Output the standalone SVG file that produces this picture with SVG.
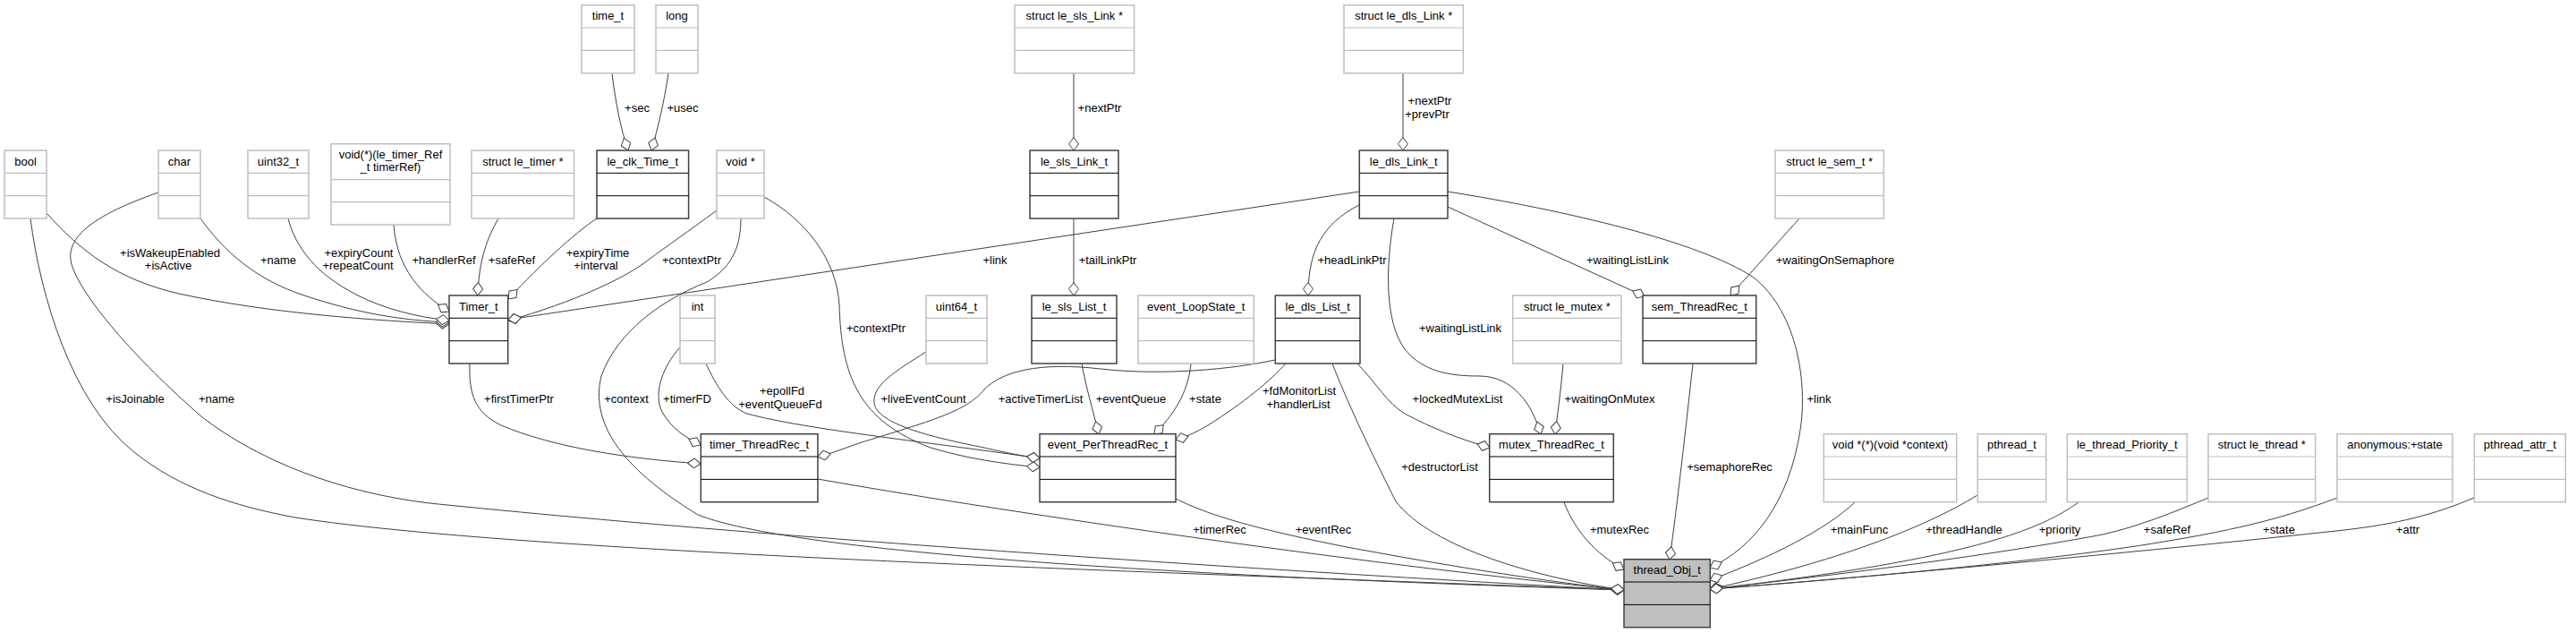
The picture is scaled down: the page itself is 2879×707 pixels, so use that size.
<svg xmlns="http://www.w3.org/2000/svg" width="2879" height="707" viewBox="0 0 2879 707">
<style>
text{font-family:"Liberation Sans",Arial,Helvetica,sans-serif;font-size:13px;fill:#000;text-anchor:middle}
.n rect{fill:#fff;stroke:#404040;stroke-width:1.5}
.n line{stroke:#000;stroke-width:1}
.u rect{fill:#fff;stroke:#bfbfbf;stroke-width:1.5}
.u line{stroke:#bfbfbf;stroke-width:1.2}
.m rect{fill:#bfbfbf}
#edges path{fill:none;stroke:#404040;stroke-width:1;marker-end:url(#od)}
</style>
<defs>
<marker id="od" markerUnits="userSpaceOnUse" markerWidth="16" markerHeight="12" viewBox="-1 -6 16 12" refX="14.5" refY="0" orient="auto">
<path d="M0,0 L7.25,-5.5 L14.5,0 L7.25,5.5 Z" fill="#fff" stroke="#404040" stroke-width="1"/>
</marker>
</defs>
<rect width="2879" height="707" fill="#fff"/>

<g id="edges">
<path d="M684,82 C688,115 694,145 702,168"/>
<path d="M747,82 C743,110 735,145 728,168"/>
<path d="M1200,82 L1200,168"/>
<path d="M1200,244 L1200,330"/>
<path d="M1568,82 L1568,168"/>
<path d="M1519,229 C1478,250 1462,280 1462,330"/>
<path d="M52,238 C90,280 130,312 200,328 C300,350 420,358 502,362"/>
<path d="M224,244 C250,280 285,312 340,330 C400,350 450,358 502,360"/>
<path d="M322,244 C330,275 352,306 400,330 C430,345 465,354 502,358"/>
<path d="M440,251 C443,290 460,322 502,348"/>
<path d="M557,244 C545,265 535,290 534,330"/>
<path d="M667,244 C640,262 605,295 568,334"/>
<path d="M801,235 C770,258 745,275 725,290 C700,310 640,338 568,358"/>
<path d="M1519,214 L568,357"/>
<path d="M525,406 C524,440 530,460 560,475 C620,500 700,512 783,518"/>
<path d="M760,388 C740,410 730,440 740,460 C750,478 765,488 783,497"/>
<path d="M789,406 C800,430 815,455 835,462 C900,480 1050,495 1162,512"/>
<path d="M854,220 C900,245 935,290 938,340 C940,420 960,470 1040,500 C1080,512 1120,518 1162,522"/>
<path d="M1035,393 C1000,415 975,430 977,450 C980,475 1050,490 1100,500 C1130,507 1148,510 1162,512"/>
<path d="M1425,402 C1380,412 1300,420 1230,412 C1160,404 1120,415 1100,435 C1080,460 1040,470 960,495 C940,502 928,507 914,510"/>
<path d="M1209,406 C1213,430 1222,460 1228,485"/>
<path d="M1331,406 C1328,440 1310,465 1290,485"/>
<path d="M1437,406 C1420,425 1390,450 1350,475 C1335,484 1325,488 1314,491"/>
<path d="M1517,406 C1540,430 1550,450 1570,462 C1600,478 1630,490 1665,500"/>
<path d="M1747,406 C1744,440 1741,460 1738,485"/>
<path d="M1558,244 C1548,300 1548,360 1570,390 C1590,415 1620,420 1653,420 C1690,420 1712,450 1722,485"/>
<path d="M1618,231 L1838,331"/>
<path d="M2011,244 L1934,330"/>
<path d="M34,244 C45,330 80,450 150,505 C200,545 260,565 330,578 C600,620 1400,642 1815,659"/>
<path d="M177,215 C120,235 70,260 80,295 C90,330 150,400 226,466 C290,515 380,550 480,562 C900,605 1500,642 1815,659"/>
<path d="M828,244 C828,280 815,300 790,315 C740,335 690,370 672,420 C660,470 690,520 780,575 C900,622 1400,646 1815,659"/>
<path d="M914,535 C1100,568 1500,628 1815,659"/>
<path d="M1314,557 C1350,575 1400,590 1500,610 C1650,638 1750,652 1815,659"/>
<path d="M1489,406 C1510,460 1540,520 1560,560 C1600,612 1720,646 1815,659"/>
<path d="M1748,561 C1760,592 1782,618 1815,636"/>
<path d="M1892,406 C1885,470 1875,560 1866,625"/>
<path d="M1618,214 C1750,235 1900,270 1960,310 C2010,350 2020,430 2012,480 C2000,560 1960,612 1911,634"/>
<path d="M2073,561 C2040,592 1980,622 1911,648"/>
<path d="M2210,553 C2150,590 2050,628 1911,658"/>
<path d="M2323,561 C2280,592 2200,625 1911,658"/>
<path d="M2468,556 C2430,572 2390,588 2350,597 C2200,625 2000,648 1911,658"/>
<path d="M2612,556 C2570,572 2520,588 2430,603 C2300,626 2050,648 1911,658"/>
<path d="M2765,556 C2720,575 2680,585 2620,592 C2400,616 2050,648 1911,658"/>
</g>

<g id="edge-labels">
<text x="712" y="125">+sec</text>
<text x="763" y="125">+usec</text>
<text x="1229" y="125">+nextPtr</text>
<text x="1598" y="117">+nextPtr</text>
<text x="1595" y="132">+prevPtr</text>
<text x="1238" y="295">+tailLinkPtr</text>
<text x="1511" y="295">+headLinkPtr</text>
<text x="1819" y="295">+waitingListLink</text>
<text x="2051" y="295">+waitingOnSemaphore</text>
<text x="190" y="287">+isWakeupEnabled</text>
<text x="188" y="301">+isActive</text>
<text x="311" y="295">+name</text>
<text x="401" y="287">+expiryCount</text>
<text x="400" y="301">+repeatCount</text>
<text x="496" y="295">+handlerRef</text>
<text x="572" y="295">+safeRef</text>
<text x="668" y="287">+expiryTime</text>
<text x="666" y="301">+interval</text>
<text x="773" y="295">+contextPtr</text>
<text x="1112" y="295">+link</text>
<text x="580" y="449.5">+firstTimerPtr</text>
<text x="700" y="449.5">+context</text>
<text x="768" y="449.5">+timerFD</text>
<text x="874" y="441">+epollFd</text>
<text x="872" y="456">+eventQueueFd</text>
<text x="979" y="371">+contextPtr</text>
<text x="1032" y="449.5">+liveEventCount</text>
<text x="1163" y="449.5">+activeTimerList</text>
<text x="1264" y="449.5">+eventQueue</text>
<text x="1347" y="449.5">+state</text>
<text x="1452" y="441">+fdMonitorList</text>
<text x="1451" y="456">+handlerList</text>
<text x="1629" y="449.5">+lockedMutexList</text>
<text x="1799" y="449.5">+waitingOnMutex</text>
<text x="1632" y="371">+waitingListLink</text>
<text x="1609" y="526">+destructorList</text>
<text x="1933" y="526">+semaphoreRec</text>
<text x="2033" y="449.5">+link</text>
<text x="151" y="449.5">+isJoinable</text>
<text x="242" y="449.5">+name</text>
<text x="1363" y="596">+timerRec</text>
<text x="1479" y="596">+eventRec</text>
<text x="1810" y="596">+mutexRec</text>
<text x="2078" y="596">+mainFunc</text>
<text x="2195" y="596">+threadHandle</text>
<text x="2302" y="596">+priority</text>
<text x="2422" y="596">+safeRef</text>
<text x="2547" y="596">+state</text>
<text x="2691" y="596">+attr</text>
</g>

<g id="bool" class="u"><rect x="5" y="168" width="47" height="76"/><line x1="5" y1="193.3" x2="52" y2="193.3"/><line x1="5" y1="218.7" x2="52" y2="218.7"/><text x="28.5" y="184.5">bool</text></g>
<g id="char" class="u"><rect x="177" y="168" width="47" height="76"/><line x1="177" y1="193.3" x2="224" y2="193.3"/><line x1="177" y1="218.7" x2="224" y2="218.7"/><text x="200.5" y="184.5">char</text></g>
<g id="uint32_t" class="u"><rect x="277" y="168" width="68" height="76"/><line x1="277" y1="193.3" x2="345" y2="193.3"/><line x1="277" y1="218.7" x2="345" y2="218.7"/><text x="311" y="184.5">uint32_t</text></g>
<g id="timer_handler_fn" class="u"><rect x="370" y="160.7" width="133" height="90.3"/><line x1="370" y1="200.7" x2="503" y2="200.7"/><line x1="370" y1="225.7" x2="503" y2="225.7"/><text x="436.5" y="177">void(*)(le_timer_Ref</text><text x="436.5" y="191">_t timerRef)</text></g>
<g id="struct_le_timer" class="u"><rect x="527" y="168" width="114.5" height="76"/><line x1="527" y1="193.3" x2="641.5" y2="193.3"/><line x1="527" y1="218.7" x2="641.5" y2="218.7"/><text x="584.3" y="184.5">struct le_timer *</text></g>
<g id="time_t" class="u"><rect x="650" y="5.7" width="59" height="76"/><line x1="650" y1="31" x2="709" y2="31"/><line x1="650" y1="56.4" x2="709" y2="56.4"/><text x="679.5" y="22">time_t</text></g>
<g id="long" class="u"><rect x="733" y="5.7" width="47" height="76"/><line x1="733" y1="31" x2="780" y2="31"/><line x1="733" y1="56.4" x2="780" y2="56.4"/><text x="756.5" y="22">long</text></g>
<g id="le_clk_Time_t" class="n"><rect x="667" y="168" width="102.6" height="76"/><line x1="667" y1="193.3" x2="769.6" y2="193.3"/><line x1="667" y1="218.7" x2="769.6" y2="218.7"/><text x="718.3" y="184.5">le_clk_Time_t</text></g>
<g id="void_ptr" class="u"><rect x="801" y="168" width="53" height="76"/><line x1="801" y1="193.3" x2="854" y2="193.3"/><line x1="801" y1="218.7" x2="854" y2="218.7"/><text x="827.5" y="184.5">void *</text></g>
<g id="Timer_t" class="n"><rect x="502" y="330" width="65.7" height="76"/><line x1="502" y1="355.3" x2="567.7" y2="355.3"/><line x1="502" y1="380.7" x2="567.7" y2="380.7"/><text x="534.8" y="346.5">Timer_t</text></g>
<g id="int" class="u"><rect x="760" y="330" width="39" height="76"/><line x1="760" y1="355.3" x2="799" y2="355.3"/><line x1="760" y1="380.7" x2="799" y2="380.7"/><text x="779.5" y="346.5">int</text></g>
<g id="timer_ThreadRec_t" class="n"><rect x="783.3" y="484.7" width="130.7" height="76"/><line x1="783.3" y1="510" x2="914" y2="510"/><line x1="783.3" y1="535.4" x2="914" y2="535.4"/><text x="848.6" y="501">timer_ThreadRec_t</text></g>
<g id="struct_le_sls_Link" class="u"><rect x="1134" y="5.7" width="133.6" height="76"/><line x1="1134" y1="31" x2="1267.6" y2="31"/><line x1="1134" y1="56.4" x2="1267.6" y2="56.4"/><text x="1200.8" y="22">struct le_sls_Link *</text></g>
<g id="le_sls_Link_t" class="n"><rect x="1151" y="168" width="99" height="76"/><line x1="1151" y1="193.3" x2="1250" y2="193.3"/><line x1="1151" y1="218.7" x2="1250" y2="218.7"/><text x="1200.5" y="184.5">le_sls_Link_t</text></g>
<g id="uint64_t" class="u"><rect x="1035" y="330" width="68" height="76"/><line x1="1035" y1="355.3" x2="1103" y2="355.3"/><line x1="1035" y1="380.7" x2="1103" y2="380.7"/><text x="1069" y="346.5">uint64_t</text></g>
<g id="le_sls_List_t" class="n"><rect x="1153" y="330" width="95" height="76"/><line x1="1153" y1="355.3" x2="1248" y2="355.3"/><line x1="1153" y1="380.7" x2="1248" y2="380.7"/><text x="1200.5" y="346.5">le_sls_List_t</text></g>
<g id="event_LoopState_t" class="u"><rect x="1272" y="330" width="129.3" height="76"/><line x1="1272" y1="355.3" x2="1401.3" y2="355.3"/><line x1="1272" y1="380.7" x2="1401.3" y2="380.7"/><text x="1336.7" y="346.5">event_LoopState_t</text></g>
<g id="event_PerThreadRec_t" class="n"><rect x="1162" y="484.7" width="152" height="76"/><line x1="1162" y1="510" x2="1314" y2="510"/><line x1="1162" y1="535.4" x2="1314" y2="535.4"/><text x="1238" y="501">event_PerThreadRec_t</text></g>
<g id="struct_le_dls_Link" class="u"><rect x="1502" y="5.7" width="133.4" height="76"/><line x1="1502" y1="31" x2="1635.4" y2="31"/><line x1="1502" y1="56.4" x2="1635.4" y2="56.4"/><text x="1568.7" y="22">struct le_dls_Link *</text></g>
<g id="le_dls_Link_t" class="n"><rect x="1519.3" y="168" width="98.7" height="76"/><line x1="1519.3" y1="193.3" x2="1618" y2="193.3"/><line x1="1519.3" y1="218.7" x2="1618" y2="218.7"/><text x="1568.7" y="184.5">le_dls_Link_t</text></g>
<g id="le_dls_List_t" class="n"><rect x="1425.3" y="330" width="94.7" height="76"/><line x1="1425.3" y1="355.3" x2="1520" y2="355.3"/><line x1="1425.3" y1="380.7" x2="1520" y2="380.7"/><text x="1472.7" y="346.5">le_dls_List_t</text></g>
<g id="struct_le_mutex" class="u"><rect x="1690.7" y="330" width="121.3" height="76"/><line x1="1690.7" y1="355.3" x2="1812" y2="355.3"/><line x1="1690.7" y1="380.7" x2="1812" y2="380.7"/><text x="1751.3" y="346.5">struct le_mutex *</text></g>
<g id="sem_ThreadRec_t" class="n"><rect x="1836" y="330" width="126.7" height="76"/><line x1="1836" y1="355.3" x2="1962.7" y2="355.3"/><line x1="1836" y1="380.7" x2="1962.7" y2="380.7"/><text x="1899.3" y="346.5">sem_ThreadRec_t</text></g>
<g id="mutex_ThreadRec_t" class="n"><rect x="1664.7" y="484.7" width="138.6" height="76"/><line x1="1664.7" y1="510" x2="1803.3" y2="510"/><line x1="1664.7" y1="535.4" x2="1803.3" y2="535.4"/><text x="1734" y="501">mutex_ThreadRec_t</text></g>
<g id="struct_le_sem_t" class="u"><rect x="1984" y="168" width="121.3" height="76"/><line x1="1984" y1="193.3" x2="2105.3" y2="193.3"/><line x1="1984" y1="218.7" x2="2105.3" y2="218.7"/><text x="2044.7" y="184.5">struct le_sem_t *</text></g>
<g id="thread_Obj_t" class="n m"><rect x="1815" y="624.7" width="96.3" height="76"/><line x1="1815" y1="650" x2="1911.3" y2="650"/><line x1="1815" y1="675.4" x2="1911.3" y2="675.4"/><text x="1863.2" y="641">thread_Obj_t</text></g>
<g id="main_func" class="u"><rect x="2038.3" y="484.7" width="148.4" height="76"/><line x1="2038.3" y1="510" x2="2186.7" y2="510"/><line x1="2038.3" y1="535.4" x2="2186.7" y2="535.4"/><text x="2112.5" y="501">void *(*)(void *context)</text></g>
<g id="pthread_t" class="u"><rect x="2210.3" y="484.7" width="76.4" height="76"/><line x1="2210.3" y1="510" x2="2286.7" y2="510"/><line x1="2210.3" y1="535.4" x2="2286.7" y2="535.4"/><text x="2248.5" y="501">pthread_t</text></g>
<g id="le_thread_Priority_t" class="u"><rect x="2310.3" y="484.7" width="134" height="76"/><line x1="2310.3" y1="510" x2="2444.3" y2="510"/><line x1="2310.3" y1="535.4" x2="2444.3" y2="535.4"/><text x="2377.3" y="501">le_thread_Priority_t</text></g>
<g id="struct_le_thread" class="u"><rect x="2468" y="484.7" width="119.7" height="76"/><line x1="2468" y1="510" x2="2587.7" y2="510"/><line x1="2468" y1="535.4" x2="2587.7" y2="535.4"/><text x="2527.8" y="501">struct le_thread *</text></g>
<g id="anonymous_state" class="u"><rect x="2612" y="484.7" width="129" height="76"/><line x1="2612" y1="510" x2="2741" y2="510"/><line x1="2612" y1="535.4" x2="2741" y2="535.4"/><text x="2676.5" y="501">anonymous:+state</text></g>
<g id="pthread_attr_t" class="u"><rect x="2765.3" y="484.7" width="102" height="76"/><line x1="2765.3" y1="510" x2="2867.3" y2="510"/><line x1="2765.3" y1="535.4" x2="2867.3" y2="535.4"/><text x="2816.3" y="501">pthread_attr_t</text></g>
</svg>
